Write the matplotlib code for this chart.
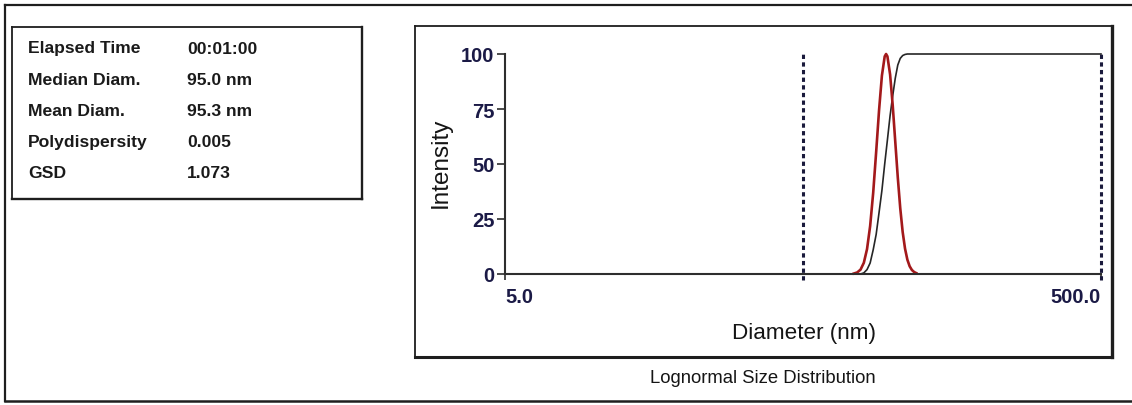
import matplotlib
matplotlib.use("Agg")
import matplotlib.pyplot as plt
from matplotlib.lines import Line2D

# ---------------- data ----------------
info_labels = ["Elapsed Time", "Median Diam.", "Mean Diam.", "Polydispersity", "GSD"]
info_values = ["00:01:00", "95.0 nm", "95.3 nm", "0.005", "1.073"]

dist_diameter = [74, 76, 78, 80, 82, 84, 86, 88, 90, 92, 94, 95, 96, 98, 100,
                 102, 104, 106, 108, 110, 112, 114, 116, 118, 120]
dist_intensity = [0.2, 0.7, 2.0, 5.1, 11.3, 21.8, 36.9, 55.5, 74.5, 90.2, 98.9, 100,
                  98.9, 90.7, 76.7, 60.1, 43.9, 29.9, 19.1, 11.5, 6.5, 3.5, 1.8, 0.9, 0.4]

cum_diameter = [78, 80, 82, 84, 86, 88, 90, 92, 94, 96, 98, 100, 102, 104,
                106, 108, 110, 112, 500]
cum_intensity = [0, 0.5, 2, 5, 11, 18, 28, 38, 50, 61, 72, 81, 89, 95,
                 98, 99.3, 99.8, 100, 100]

limit_lines = [50, 500]
y_ticks = [0, 25, 50, 75, 100]
x_ticks = [5, 500]
x_tick_labels = ["5.0", "500.0"]

# ---------------- figure ----------------
W, H = 1132, 406
plt.rcParams['font.family'] = ['Liberation Sans', 'DejaVu Sans']
fig = plt.figure(figsize=(W / 100, H / 100), dpi=100)
fig.patch.set_facecolor('white')


def fx(px):
    return px / W


def fy(py):
    return 1 - py / H


def frame_line(xs, ys, lw, color='#1e1e1e'):
    fig.add_artist(Line2D([fx(x) for x in xs], [fy(y) for y in ys],
                          transform=fig.transFigure, lw=lw, color=color,
                          solid_capstyle='projecting'))


# outer frame (right side cut off)
frame_line([5, 1140], [5.5, 5.5], 1.6)
frame_line([5, 5], [5.5, 402], 1.6)
frame_line([5, 1140], [402, 402], 1.8)

# info box
frame_line([12, 361.5], [28, 28], 1.3)
frame_line([12, 12], [28, 200], 1.3)
frame_line([12, 361.5], [200, 200], 1.7)
frame_line([361.5, 361.5], [28, 200], 1.7)

# plot panel box
frame_line([415, 1112], [27, 27], 1.3)
frame_line([415, 415], [27, 357.5], 1.3)
frame_line([415, 1112], [357.5, 357.5], 2.2)
frame_line([1112, 1112], [27, 357.5], 2.4)

# info text
row_y = [49, 80.3, 111.6, 143, 174]
for lab, val, yy in zip(info_labels, info_values, row_y):
    fig.text(fx(28), fy(yy), lab, fontsize=12.6, color='#1a1a1a',
             ha='left', va='center', fontweight='bold')
    fig.text(fx(187), fy(yy), val, fontsize=12.6, color='#1a1a1a',
             ha='left', va='center', fontweight='bold')

# ---------------- axes ----------------
ax_left, ax_right, ax_top, ax_bottom = 505, 1101, 55, 275
ax = fig.add_axes([fx(ax_left), fy(ax_bottom), (ax_right - ax_left) / W,
                   (ax_bottom - ax_top) / H])
ax.set_xscale('log')
ax.set_xlim(5, 500)
ax.set_ylim(0, 100)
ax.patch.set_alpha(0)

ax.plot(cum_diameter, cum_intensity, color='#262626', lw=1.2, clip_on=False, zorder=3)
ax.plot(dist_diameter, dist_intensity, color='#a3191b', lw=1.9, clip_on=False, zorder=4)

for xv in limit_lines:
    ax.plot([xv, xv], [-2.5, 100], color='#1a1a3c', lw=2.2,
            linestyle=(0, (1.4, 1.1)), clip_on=False, zorder=5)

for s in ['top', 'right']:
    ax.spines[s].set_visible(False)
for s in ['left', 'bottom']:
    ax.spines[s].set_linewidth(1.5)
    ax.spines[s].set_color('#2e2e2e')
    ax.spines[s].set_zorder(6)

ax.set_yticks(y_ticks)
ax.set_yticklabels([str(v) for v in y_ticks])
ax.set_xticks(x_ticks)
ax.set_xticklabels(x_tick_labels)
ax.xaxis.set_minor_locator(matplotlib.ticker.NullLocator())
ax.tick_params(axis='y', direction='out', length=5.5, width=1.2, color='#2e2e2e',
               labelsize=14.5, labelcolor='#1b1a46', pad=2)
ax.tick_params(axis='x', direction='out', length=4.5, width=1.2, color='#2e2e2e',
               labelsize=14.5, labelcolor='#1b1a46', pad=5)
for lbl in ax.get_yticklabels() + ax.get_xticklabels():
    lbl.set_fontweight('bold')
xl = ax.get_xticklabels()
xl[0].set_horizontalalignment('left')
xl[1].set_horizontalalignment('right')

fig.text(fx(441), fy(163), "Intensity", rotation=90, fontsize=17.5,
         color='#151515', ha='center', va='center')
fig.text(fx(804), fy(334), "Diameter (nm)", fontsize=16.2,
         color='#151515', ha='center', va='center')
fig.text(fx(763), fy(379), "Lognormal Size Distribution", fontsize=13.3,
         color='#151515', ha='center', va='center')

fig.savefig('out.png', dpi=100, facecolor='white')
